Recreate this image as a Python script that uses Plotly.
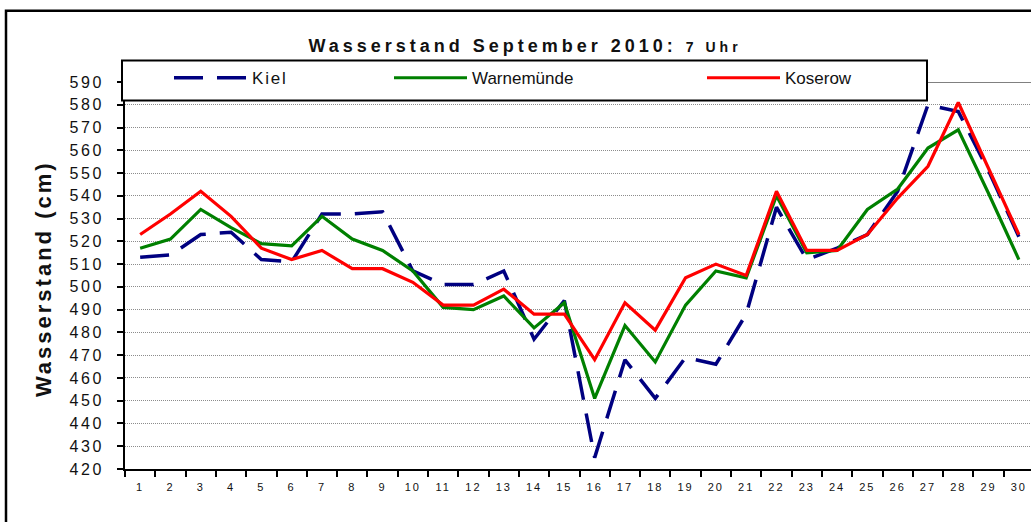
import plotly.graph_objects as go

days = [str(d) for d in range(1, 31)]
kiel = [513, 514, 523, 524, 512, 511, 532, 532, 533, 507, 501, 501, 507, 477, 494, 425,
        468, 451, 469, 466, 488, 535, 512, 517, 523, 542, 580, 577, 551, 522]
warnemuende = [517, 521, 534, 526, 519, 518, 531, 521, 516, 507, 491, 490, 496, 482, 493, 451,
               483, 467, 492, 507, 504, 540, 515, 516, 534, 543, 561, 569, 541, 512]
koserow = [523, 532, 542, 531, 517, 512, 516, 508, 508, 502, 492, 492, 499, 488, 488, 468,
           493, 481, 504, 510, 505, 542, 516, 516, 523, 539, 553, 581, 552, 523]
y_ticks = list(range(420, 600, 10))

FONT = "Liberation Sans, Arial, sans-serif"
W, H = 1031, 522
L, T, B = 125, 81.5, 52.7
PW = W - L
PH = H - T - B


def px_x(p):
    return (p - L) / PW


def px_y(p):
    return (H - B - p) / PH


fig = go.Figure()
fig.add_trace(go.Scatter(x=days, y=kiel, name="Kiel", mode="lines", showlegend=True,
                         line=dict(color="#000080", width=3.5, dash="29px,14px"),
                         legend="legend"))
fig.add_trace(go.Scatter(x=days, y=warnemuende, name="Warnemünde", mode="lines",
                         showlegend=True,
                         line=dict(color="#008000", width=3.2), legend="legend2"))
fig.add_trace(go.Scatter(x=days, y=koserow, name="Koserow", mode="lines", showlegend=True,
                         line=dict(color="#ff0000", width=3.2), legend="legend3"))

leg_common = dict(bgcolor="rgba(0,0,0,0)", borderwidth=0, itemwidth=73,
                  font=dict(family=FONT, size=17, color="#111"),
                  yanchor="middle", xanchor="left", y=px_y(77.7))
fig.update_layout(
    showlegend=True,
    legend=dict(x=px_x(169), **leg_common),
    legend2=dict(x=px_x(389), **leg_common),
    legend3=dict(x=px_x(702), **leg_common),
)

fig.update_layout(
    width=W, height=H,
    margin=dict(l=L, r=0, t=T, b=B),
    paper_bgcolor="white", plot_bgcolor="white",
    font=dict(family=FONT, color="#111"),
    title=dict(text="<b>Wasserstand September 2010: <span style='font-size:14px'>7 Uhr</span></b>",
               x=525 / W, xref="container", xanchor="center",
               y=1 - 46 / H, yref="container", yanchor="middle",
               font=dict(family=FONT, size=18, color="#111")),
    xaxis=dict(type="category", range=[-0.5, 29.4], tickson="boundaries",
               ticks="outside", ticklen=6, tickwidth=1.5, tickcolor="black",
               showline=True, linecolor="black", linewidth=2,
               showgrid=False, tickfont=dict(family=FONT, size=11, color="#111"),
               ticklabelstandoff=7),
    yaxis=dict(range=[420, 590], tickvals=y_ticks, ticks="outside", ticklen=6,
               tickwidth=1.5, tickcolor="black",
               showline=True, linecolor="black", linewidth=2,
               showgrid=True, gridcolor="#8c8c8c", gridwidth=1, griddash="1px,1px",
               zeroline=False, tickfont=dict(family=FONT, size=16, color="#111"),
               ticklabelstandoff=10),
    annotations=[dict(text="<b>Wasserstand (cm)</b>", textangle=-90, showarrow=False,
                      xref="paper", yref="paper", x=px_x(43), y=px_y(279),
                      xanchor="center", yanchor="middle",
                      font=dict(family=FONT, size=22, color="#111"))],
    shapes=[
        dict(type="line", xref="paper", yref="y", x0=0, x1=1, y0=590, y1=590,
             line=dict(color="#808080", width=2), layer="below"),
        dict(type="rect", xref="paper", yref="paper", x0=px_x(122), x1=px_x(927),
             y0=px_y(100), y1=px_y(60), line=dict(color="black", width=2),
             fillcolor="white", layer="above"),
        dict(type="rect", xref="paper", yref="paper", x0=px_x(6), x1=1.2,
             y0=-0.5, y1=px_y(10), line=dict(color="black", width=2.5),
             fillcolor="rgba(0,0,0,0)", layer="above"),
    ],
)

post = """
document.body.style.margin = '0';
document.body.style.padding = '0';
function ls(sel, v){document.querySelectorAll(sel).forEach(function(e){e.style.letterSpacing=v;});}
ls('.gtitle', '4px');
ls('.legendtext', '1.8px');
ls('.ytick text', '2.5px');
ls('.xtick text', '2px');
ls('.annotation-text', '3px');
"""
fig.write_html("out.html", post_script=post, config={"displayModeBar": False})
